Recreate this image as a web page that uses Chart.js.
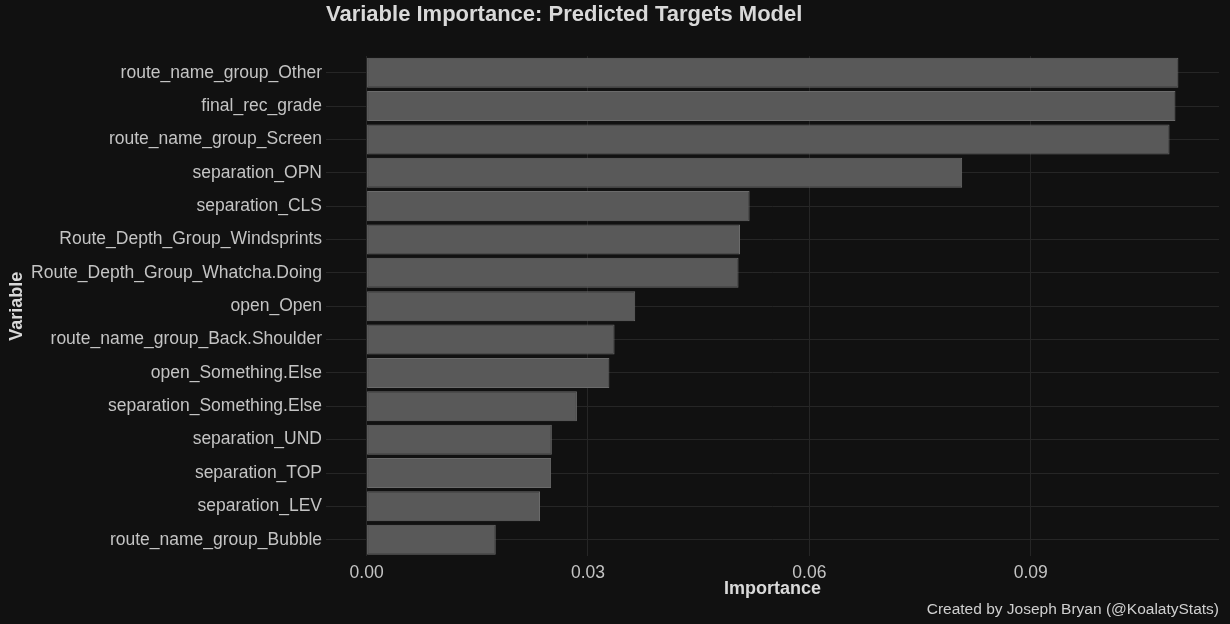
<!DOCTYPE html>
<html>
<head>
<meta charset="utf-8">
<script src="https://cdn.jsdelivr.net/npm/chart.js@4.4.1/dist/chart.umd.min.js"></script>
<style>
  html, body { margin: 0; padding: 0; background: #111111; }
  #wrap { width: 1230px; height: 624px; position: relative; }
</style>
</head>
<body>
<div id="wrap"><canvas id="c" width="1230" height="624"></canvas></div>
<script>
const variables = [
  "route_name_group_Other",
  "final_rec_grade",
  "route_name_group_Screen",
  "separation_OPN",
  "separation_CLS",
  "Route_Depth_Group_Windsprints",
  "Route_Depth_Group_Whatcha.Doing",
  "open_Open",
  "route_name_group_Back.Shoulder",
  "open_Something.Else",
  "separation_Something.Else",
  "separation_UND",
  "separation_TOP",
  "separation_LEV",
  "route_name_group_Bubble"
];
const importance = [0.1100, 0.1096, 0.1088, 0.0807, 0.0519, 0.0506, 0.0504, 0.0364, 0.0336, 0.0329, 0.0285, 0.0251, 0.0250, 0.0235, 0.0175];
const xTicks = [0.00, 0.03, 0.06, 0.09];

const FONT = "'Liberation Sans', Arial, sans-serif";
const xMax = Math.max(...importance);
const xPad = xMax * 0.05;

new Chart(document.getElementById('c'), {
  type: 'bar',
  data: {
    labels: variables,
    datasets: [{
      data: importance,
      backgroundColor: '#595959',
      borderColor: '#6b6b6b',
      borderWidth: 1,
      borderSkipped: false,
      barPercentage: 0.9,
      categoryPercentage: 1.0
    }]
  },
  options: {
    indexAxis: 'y',
    responsive: false,
    animation: false,
    layout: { padding: { left: 0, right: 11, top: 0, bottom: 0 } },
    plugins: {
      legend: { display: false },
      tooltip: { enabled: false },
      title: {
        display: true,
        text: 'Variable Importance: Predicted Targets Model',
        align: 'start',
        fullSize: false,
        color: '#d9d9d9',
        font: { family: FONT, size: 22, weight: 'bold' },
        padding: { top: 2, bottom: 27.6 }
      },
      subtitle: {
        display: true,
        position: 'bottom',
        text: 'Created by Joseph Bryan (@KoalatyStats)',
        align: 'end',
        fullSize: false,
        color: '#cfcfcf',
        font: { family: FONT, size: 15.5 },
        padding: { top: 1, bottom: 5 }
      }
    },
    scales: {
      x: {
        type: 'linear',
        min: -xPad,
        max: xMax + xPad,
        afterBuildTicks: (scale) => { scale.ticks = xTicks.map(v => ({ value: v })); },
        afterFit: (scale) => { scale.height = 43; },
        grid: { color: '#262626', lineWidth: 1, drawTicks: false },
        border: { display: false },
        ticks: {
          color: '#c4c4c4',
          font: { family: FONT, size: 17.5 },
          padding: 6,
          callback: (v) => Number(v).toFixed(2)
        },
        title: {
          display: true,
          text: 'Importance',
          color: '#d9d9d9',
          font: { family: FONT, size: 18, weight: 'bold' },
          padding: { top: 0, bottom: 0 }
        }
      },
      y: {
        type: 'category',
        offset: true,
        afterFit: (scale) => { scale.width = 326; },
        grid: { color: '#262626', lineWidth: 1, drawTicks: false, offset: false },
        border: { display: false },
        ticks: {
          color: '#c4c4c4',
          font: { family: FONT, size: 17.5 },
          padding: 4,
          autoSkip: false
        },
        title: {
          display: true,
          text: 'Variable',
          color: '#d9d9d9',
          font: { family: FONT, size: 18, weight: 'bold' },
          padding: { top: 6, bottom: 0 }
        }
      }
    }
  },
  plugins: [{
    id: 'bg',
    beforeDraw: (chart) => {
      const ctx = chart.ctx;
      ctx.save();
      ctx.fillStyle = '#111111';
      ctx.fillRect(0, 0, chart.width, chart.height);
      ctx.restore();
    }
  }]
});
</script>
</body>
</html>
